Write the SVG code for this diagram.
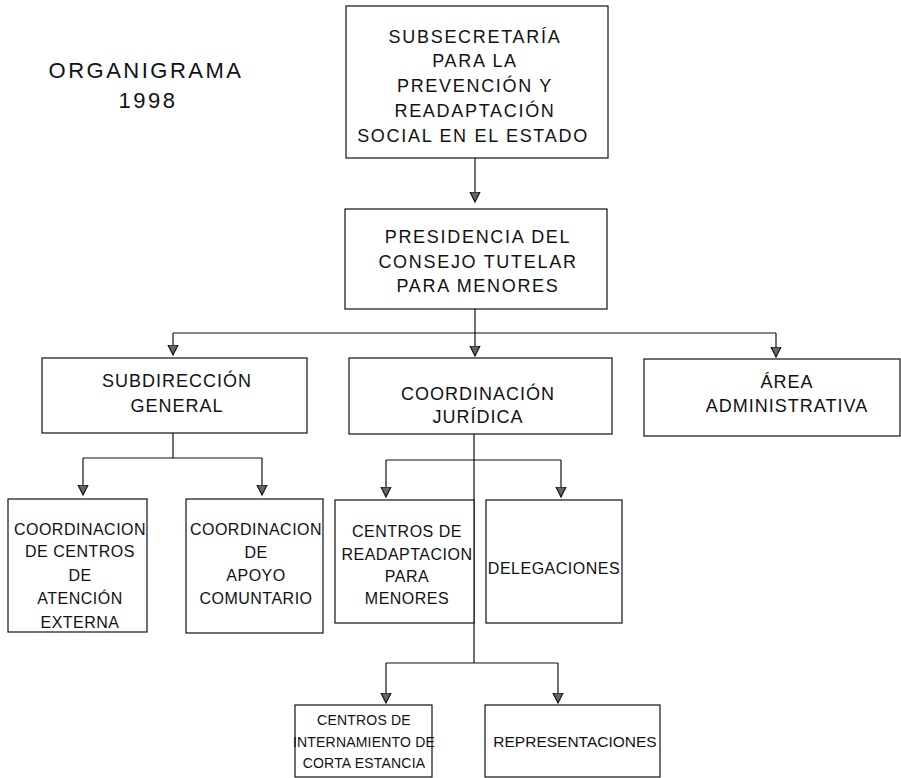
<svg xmlns="http://www.w3.org/2000/svg" width="901" height="778" viewBox="0 0 901 778">
<style>
  .box { fill: #fff; stroke: #111; stroke-width: 1.2; }
  .con { fill: none; stroke: #111; stroke-width: 1.2; }
  .arr { marker-end: url(#ah); }
  text { font-family: "Liberation Sans", Arial, sans-serif; fill: #111; text-anchor: middle; }
  .title { font-size: 22px; letter-spacing: 2.5px; }
  .t1 { font-size: 18px; letter-spacing: 1.7px; }
  .t2 { font-size: 18px; letter-spacing: 1.0px; }
  .t3 { font-size: 16px; letter-spacing: 0.5px; }
  .t4 { font-size: 14px; letter-spacing: 0.2px; }
  .t5 { font-size: 15.5px; letter-spacing: 0px; }
</style>
<defs>
  <marker id="ah" markerUnits="userSpaceOnUse" markerWidth="12" markerHeight="12" refX="10" refY="5.5" orient="auto" viewBox="0 0 12 12">
    <path d="M0,0.5 L10,5.5 L0,10.5 Z" fill="#666" stroke="#111" stroke-width="1.2"/>
  </marker>
</defs>
<rect width="901" height="778" fill="#fff"/>

<g id="title">
  <text class="title" x="146" y="78">ORGANIGRAMA</text>
  <text class="title" x="148" y="108">1998</text>
</g>

<g id="connectors">
  <path class="con arr" d="M475,158 V202"/>
  <path class="con" d="M475,309 V333 M173,333 H776"/>
  <path class="con arr" d="M173,333 V355"/>
  <path class="con arr" d="M475,333 V356"/>
  <path class="con arr" d="M776,333 V357"/>
  <path class="con" d="M173,433 V458 M83,458 H262"/>
  <path class="con arr" d="M83,458 V495"/>
  <path class="con arr" d="M262,458 V495"/>
  <path class="con" d="M474,434 V663 M386,460 H561 M386,663 H558"/>
  <path class="con arr" d="M386,460 V497"/>
  <path class="con arr" d="M561,460 V497"/>
  <path class="con arr" d="M386,663 V703"/>
  <path class="con arr" d="M558,663 V703"/>
</g>

<g id="subsecretaria">
  <rect class="box" x="346" y="6" width="262" height="152"/>
  <text class="t1" x="475" y="43">SUBSECRETARÍA</text>
  <text class="t1" x="475" y="67">PARA LA</text>
  <text class="t1" x="475" y="92">PREVENCIÓN Y</text>
  <text class="t1" x="475" y="117">READAPTACIÓN</text>
  <text class="t1" x="473" y="142">SOCIAL EN EL ESTADO</text>
</g>

<g id="presidencia">
  <rect class="box" x="345" y="209" width="262" height="100"/>
  <text class="t1" x="478" y="243">PRESIDENCIA DEL</text>
  <text class="t1" x="478" y="268">CONSEJO TUTELAR</text>
  <text class="t1" x="478" y="292">PARA MENORES</text>
</g>

<g id="subdireccion">
  <rect class="box" x="42" y="358" width="265" height="75"/>
  <text class="t2" x="177" y="387">SUBDIRECCIÓN</text>
  <text class="t2" x="177" y="412">GENERAL</text>
</g>

<g id="juridica">
  <rect class="box" x="349" y="358" width="263" height="76"/>
  <text class="t2" x="478" y="400">COORDINACIÓN</text>
  <text class="t2" x="478" y="423">JURÍDICA</text>
</g>

<g id="administrativa">
  <rect class="box" x="644" y="359" width="256" height="77"/>
  <text class="t2" x="787" y="388">ÁREA</text>
  <text class="t2" x="787" y="412">ADMINISTRATIVA</text>
</g>

<g id="atencion-externa">
  <rect class="box" x="8" y="499" width="139" height="133"/>
  <text class="t3" x="80" y="535">COORDINACION</text>
  <text class="t3" x="80" y="557">DE CENTROS</text>
  <text class="t3" x="80" y="581">DE</text>
  <text class="t3" x="80" y="604">ATENCIÓN</text>
  <text class="t3" x="80" y="628">EXTERNA</text>
</g>

<g id="apoyo-comunitario">
  <rect class="box" x="186" y="499" width="137" height="134"/>
  <text class="t3" x="256" y="535">COORDINACION</text>
  <text class="t3" x="256" y="558">DE</text>
  <text class="t3" x="256" y="581">APOYO</text>
  <text class="t3" x="256" y="604">COMUNTARIO</text>
</g>

<g id="readaptacion">
  <rect class="box" x="335" y="500" width="139" height="123"/>
  <text class="t3" x="407" y="537">CENTROS DE</text>
  <text class="t3" x="407" y="560">READAPTACION</text>
  <text class="t3" x="407" y="582">PARA</text>
  <text class="t3" x="407" y="604">MENORES</text>
</g>

<g id="delegaciones">
  <rect class="box" x="486" y="500" width="136" height="123"/>
  <text class="t3" x="554" y="574">DELEGACIONES</text>
</g>

<g id="internamiento">
  <rect class="box" x="295" y="705" width="137" height="72"/>
  <text class="t4" x="364" y="725">CENTROS DE</text>
  <text class="t4" x="364" y="747">INTERNAMIENTO DE</text>
  <text class="t4" x="364" y="768">CORTA ESTANCIA</text>
</g>

<g id="representaciones">
  <rect class="box" x="485" y="705" width="175" height="72"/>
  <text class="t5" x="575" y="747">REPRESENTACIONES</text>
</g>
</svg>
